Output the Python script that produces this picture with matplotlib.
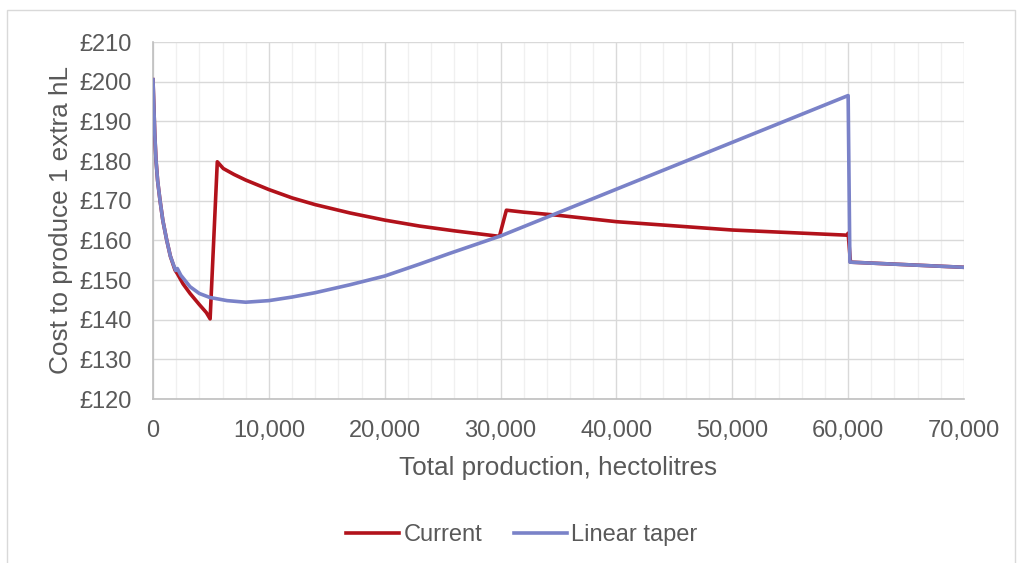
import matplotlib.pyplot as plt
from matplotlib.patches import Rectangle
from matplotlib.ticker import FuncFormatter, MultipleLocator

plt.rcParams['font.family'] = ['Liberation Sans', 'DejaVu Sans']

# marginal cost per extra hectolitre, current duty scheme
current_x = [0, 50, 150, 260, 400, 600, 850, 1180, 1500, 1900, 2100, 2600, 3200,
             4000, 4600, 4930, 5550, 6070, 7000, 8000, 9000, 10000, 12000, 14000,
             17000, 20000, 23000, 26000, 29900, 30500, 32000, 35000, 40000, 50000,
             59900, 60000, 60200, 70000]
current_y = [200.5, 196.0, 187.0, 180.2, 175.0, 170.2, 165.0, 160.1, 156.0, 152.5,
             151.6, 149.0, 146.6, 143.8, 141.8, 140.2, 179.8, 178.1, 176.6, 175.2,
             174.0, 172.8, 170.7, 169.0, 166.9, 165.1, 163.6, 162.4, 161.0, 167.6,
             167.1, 166.3, 164.7, 162.6, 161.3, 161.8, 154.5, 153.2]

# marginal cost with a linear taper of the relief
taper_x = [0, 50, 150, 260, 400, 600, 850, 1180, 1500, 1950, 2100, 2400, 3200,
           4000, 4900, 6400, 8000, 10000, 12000, 14000, 17000, 20000, 23000,
           25600, 28000, 30000, 60000, 60150, 70000]
taper_y = [200.5, 196.0, 187.0, 180.2, 175.0, 170.2, 165.0, 160.1, 156.0, 152.4,
           152.9, 151.2, 148.3, 146.6, 145.6, 144.8, 144.4, 144.8, 145.7, 146.8,
           148.8, 151.0, 154.0, 156.7, 159.1, 161.1, 196.5, 154.5, 153.2]

grey_text = '#595959'

fig = plt.figure(figsize=(10.19, 5.63), dpi=100)
fig.patches.append(Rectangle((7 / 1019, -0.1), 1008 / 1019, 1 - 10 / 563 + 0.1,
                             transform=fig.transFigure, fill=False,
                             edgecolor='#d9d9d9', linewidth=1))
ax = fig.add_axes([153 / 1019, 1 - 399 / 563, 811 / 1019, 357 / 563])

ax.plot(current_x, current_y, color='#b2121b', linewidth=2.6, label='Current',
        solid_joinstyle='round', zorder=3)
ax.plot(taper_x, taper_y, color='#7a82c8', linewidth=2.6, label='Linear taper',
        solid_joinstyle='round', zorder=4)

ax.set_xlim(0, 70000)
ax.set_ylim(120, 210)
ax.xaxis.set_major_locator(MultipleLocator(10000))
ax.xaxis.set_minor_locator(MultipleLocator(2000))
ax.yaxis.set_major_locator(MultipleLocator(10))
ax.xaxis.set_major_formatter(FuncFormatter(lambda v, p: f'{v:,.0f}'))
ax.yaxis.set_major_formatter(FuncFormatter(lambda v, p: f'£{v:.0f}'))

ax.grid(which='major', axis='both', color='#d9d9d9', linewidth=1)
ax.grid(which='minor', axis='x', color='#f0f0f0', linewidth=1)
ax.set_axisbelow(True)
for side in ['top', 'right']:
    ax.spines[side].set_visible(False)
for side in ['left', 'bottom']:
    ax.spines[side].set_color('#bfbfbf')
    ax.spines[side].set_linewidth(1.2)

ax.tick_params(which='both', length=0, labelsize=17, labelcolor=grey_text)
ax.tick_params(axis='x', pad=15)
ax.tick_params(axis='y', pad=15)

ax.set_xlabel('Total production, hectolitres', fontsize=18.8, color=grey_text,
              labelpad=10)
ax.set_ylabel('Cost to produce 1 extra hL', fontsize=18.8, color=grey_text,
              labelpad=5)

fig.legend(loc='center', bbox_to_anchor=(522 / 1019, 1 - 535 / 563), ncol=2,
           frameon=False, fontsize=17, labelcolor=grey_text, handlelength=2.25,
           handletextpad=0.2, columnspacing=1.3)

fig.savefig('out.png', dpi=100)
